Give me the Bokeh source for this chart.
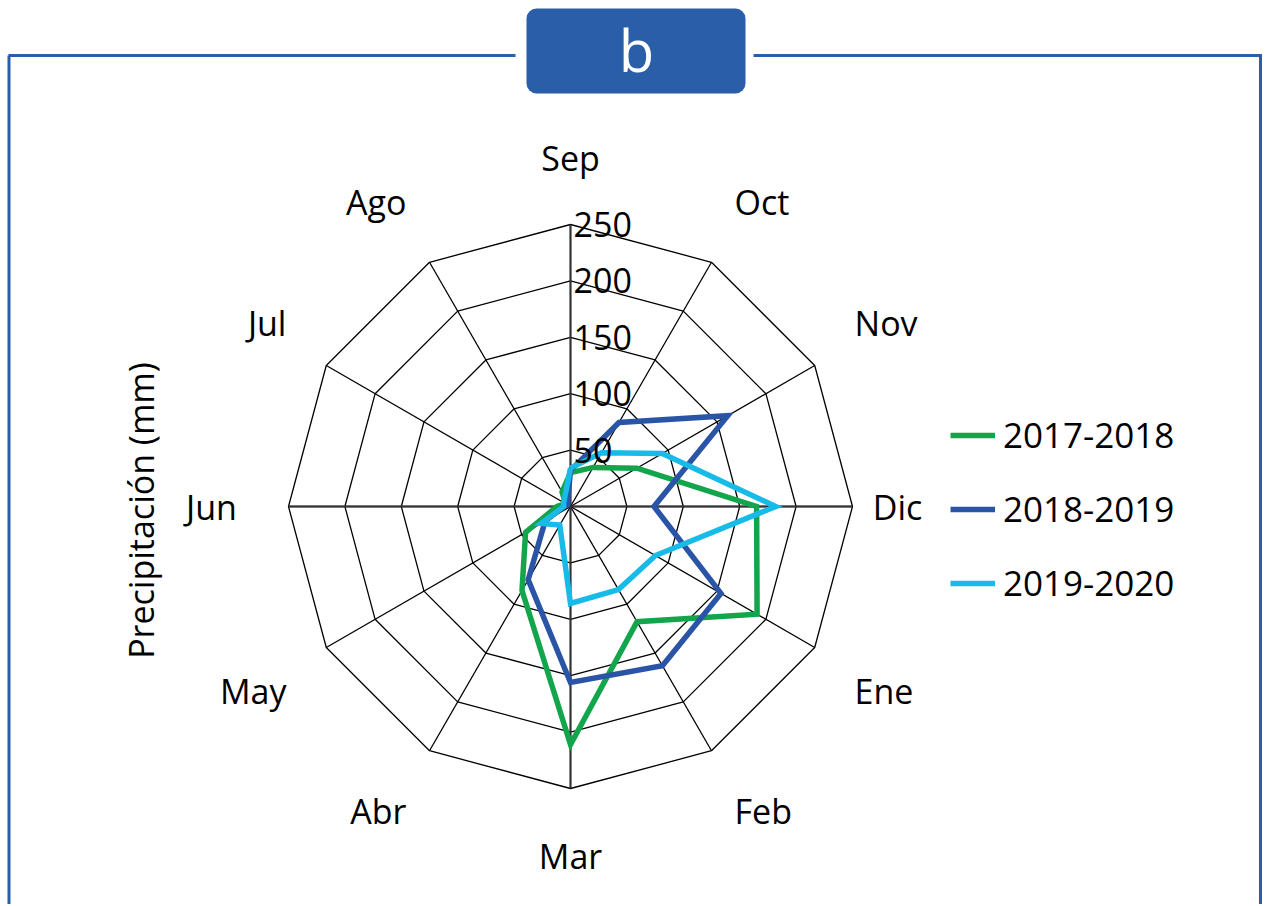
import numpy as np
from bokeh.plotting import figure
from bokeh.models import Range1d, BoxAnnotation, Label, Legend, LegendItem
from bokeh.core.properties import value
from bokeh.embed import file_html
from bokeh.resources import INLINE

# ---------------- data ----------------
months = ["Sep", "Oct", "Nov", "Dic", "Ene", "Feb", "Mar", "Abr", "May", "Jun", "Jul", "Ago"]
s2017_2018 = [30, 40, 68, 165, 191, 118, 211, 86, 46, 12, 5, 15]
s2018_2019 = [32, 86, 161, 74, 154, 163, 156, 75, 26, 6, 3, 5]
s2019_2020 = [34, 55, 94, 182, 87, 85, 86, 19, 30, 6, 7, 10]
series_names = ["2017-2018", "2018-2019", "2019-2020"]
ring_values = [50, 100, 150, 200, 250]
ring_labels = ["50", "100", "150", "200", "250"]
y_title = "Precipitación (mm)"
panel_letter = "b"

# ---------------- layout ----------------
W, H = 1262, 904
K = 1.128          # px per mm
CX, CY = 570, 506  # canvas px of chart center
RMAX = 250
FONT = "Open Sans"
FRAME_BLUE = "#2A5EA8"
colors = ["#12A54B", "#2A54A6", "#18BBE8"]


def px(X):
    return (X - CX) / K


def py(Y):
    return (CY - Y) / K


p = figure(width=W, height=H, x_range=Range1d(px(0), px(W)), y_range=Range1d(py(H), py(0)),
           output_backend="svg", toolbar_location=None, min_border=0)
p.axis.visible = False
p.grid.visible = False
p.outline_line_color = None
p.background_fill_color = "white"
p.border_fill_color = "white"

n = len(months)
theta = np.arange(n) * 2 * np.pi / n
sin_t, cos_t = np.sin(theta), np.cos(theta)

# frame decoration
p.line([px(8), px(515)], [py(55), py(55)], line_color=FRAME_BLUE, line_width=3)
p.line([px(753), px(W)], [py(55), py(55)], line_color=FRAME_BLUE, line_width=3)
p.line([px(8.5), px(8.5)], [py(55), py(H)], line_color=FRAME_BLUE, line_width=3)
p.line([px(W - 2), px(W - 2)], [py(55), py(H)], line_color=FRAME_BLUE, line_width=3)
p.add_layout(BoxAnnotation(left=px(526), right=px(745), top=py(8), bottom=py(93),
                           fill_color=FRAME_BLUE, fill_alpha=1, line_color=None, border_radius=10))
p.add_layout(Label(x=px(636), y=py(49), text=panel_letter, text_color="white", text_font=FONT,
                   text_font_size="58px", text_align="center", text_baseline="middle"))

# grid rings and spokes
for rv in ring_values:
    xs = list(rv * sin_t) + [rv * sin_t[0]]
    ys = list(rv * cos_t) + [rv * cos_t[0]]
    p.line(xs, ys, line_color="black", line_width=1.3)
p.segment(x0=np.zeros(n), y0=np.zeros(n), x1=RMAX * sin_t, y1=RMAX * cos_t,
          line_color="black", line_width=1.3)
p.segment(x0=[0, -RMAX], y0=[-RMAX, 0], x1=[0, RMAX], y1=[RMAX, 0], line_color="#333333", line_width=2)

# data series
renderers = []
for vals, col in zip([s2017_2018, s2018_2019, s2019_2020], colors):
    v = np.array(vals + [vals[0]], dtype=float)
    t = np.append(theta, theta[0])
    r = p.line(v * np.sin(t), v * np.cos(t), line_color=col, line_width=5.5, line_join="miter")
    renderers.append(r)

# radial tick labels
p.text(x=[3 / K] * len(ring_values), y=ring_values, text=ring_labels, text_font=value(FONT),
       text_font_size="34px", text_align="left", text_baseline="middle", text_color="black")

# month labels (placed outside the outer ring)
horiz = np.abs(cos_t) < 0.01
lx = np.where(horiz, 343 * sin_t - 16, 328 * sin_t) / K
ly = (330 * cos_t + 19 * np.sign(np.round(cos_t, 6))) / K
groups = [("left", (sin_t > 0.01) & ~horiz), ("right", (sin_t < -0.01) & ~horiz),
          ("center", (np.abs(sin_t) <= 0.01) | horiz)]
for align, mask in groups:
    idx = np.where(mask)[0]
    p.text(x=lx[idx], y=ly[idx], text=[months[i] for i in idx], text_font=value(FONT),
           text_font_size="34px", text_align=align, text_baseline="middle", text_color="black")

# y title
p.add_layout(Label(x=px(140), y=py(510), text=y_title, angle=np.pi / 2, text_font=FONT,
                   text_font_size="34px", text_align="center", text_baseline="middle", text_color="black"))

# legend
legend = Legend(items=[LegendItem(label=nm, renderers=[r]) for nm, r in zip(series_names, renderers)],
                location=(950, H - 606), glyph_width=45, glyph_height=38, label_height=38,
                label_standoff=8, spacing=27, padding=0, margin=0, border_line_color=None,
                background_fill_alpha=0, label_text_font=FONT, label_text_font_size="35px",
                label_text_color="black")
p.add_layout(legend, "center")

open("out.html", "w").write(file_html(p, INLINE))
